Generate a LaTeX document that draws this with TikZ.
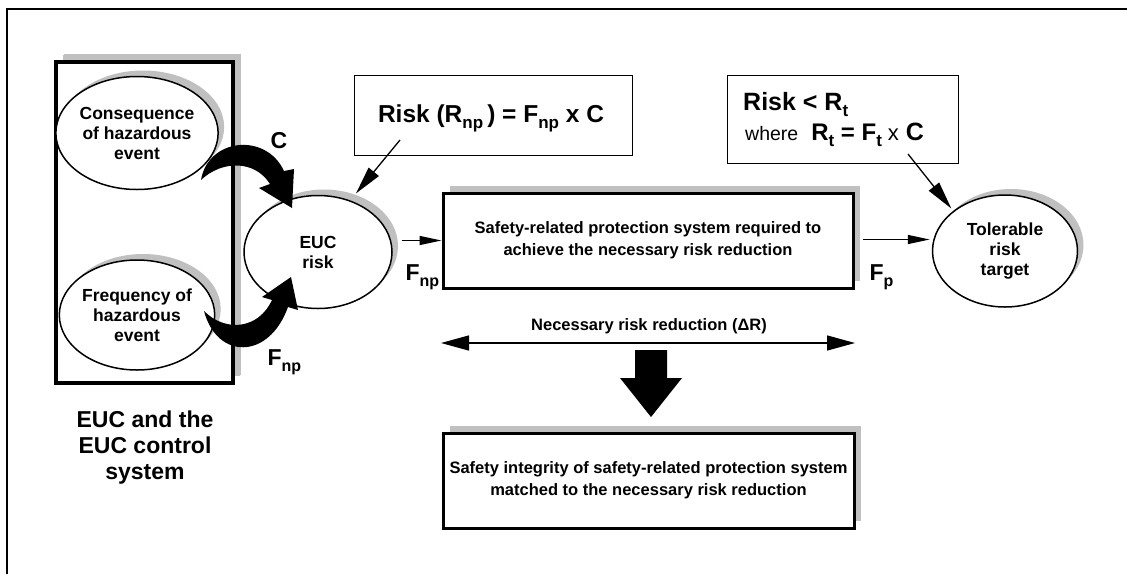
\documentclass[tikz,border=0pt]{standalone}
\usepackage{fontspec}
\setmainfont{Liberation Sans}
\usetikzlibrary{shapes.geometric,arrows.meta,calc,shadows}
\definecolor{shade}{HTML}{C0C0C0}
% lowered subscript: size, drop, text
\newcommand\lowsub[3]{\raisebox{-#2pt}{\fontsize{#1}{#1}\selectfont #3}}

\begin{document}
\begin{tikzpicture}[x=1pt,y=-1pt,
  ovaltext/.style={font=\bfseries\fontsize{17.5}{20}\selectfont, align=center},
  oval/.style={ellipse, draw, line width=1.5pt, fill=white, inner sep=0pt,
    general shadow={shadow xshift=6pt, shadow yshift=6pt, fill=shade}, ovaltext},
  panel/.style={rectangle, draw, line width=3pt, fill=white, inner sep=0pt,
    general shadow={shadow xshift=7pt, shadow yshift=7pt, fill=shade},
    font=\bfseries\fontsize{16.5}{22}\selectfont, align=center},
  formula/.style={rectangle, draw, line width=1pt, fill=white, inner sep=0pt},
  flowarrow/.style={line width=1.3pt, -{Triangle[length=22pt,width=9pt]}},
  pointer/.style={line width=1.3pt, -{Triangle[length=28pt,width=13pt]}},
  biglabel/.style={font=\bfseries\fontsize{23}{26}\selectfont, align=center},
]
\useasboundingbox (0,0) rectangle (1127,574);

% outer frame (open on the right and bottom)
\draw[line width=2.5pt] (7,574) -- (7,9) -- (1127,9);

% EUC and its control system
\node[panel, line width=3.5pt, minimum width=177pt, minimum height=321pt,
  general shadow={shadow xshift=8pt, shadow yshift=8pt, fill=shade}] (euc box) at (144.5,222.5) {};
\node[oval, minimum width=142pt, minimum height=113pt] (cons) at (137,133)
  {Consequence\\of hazardous\\event};
\node[oval, minimum width=147pt, minimum height=110pt] (freq) at (137,315)
  {Frequency of\\hazardous\\event};
\node[biglabel] (euc label) at (145,448) {EUC and the\\EUC control\\system};

% risk ellipses
\node[oval, minimum width=148pt, minimum height=113pt] (risk) at (318,252) {EUC\\risk};
\node[oval, minimum width=145pt, minimum height=112pt] (tol) at (1005,251)
  {Tolerable\\risk\\target};

% curved block arrows into the EUC risk
\fill (201,180) .. controls (208,138) and (266,132) .. (284,171)
  -- (294,169) -- (292,208) -- (259,188) -- (270,184)
  .. controls (255,160) and (222,160) .. (201,180) -- cycle;
\fill (204,311) .. controls (217,360) and (269,360) .. (288,307)
  -- (298,310) -- (291,277) -- (262,297) -- (272,300)
  .. controls (258,330) and (225,332) .. (204,311) -- cycle;
\node[biglabel] (c label) at (279,141) {C};
\node[biglabel, anchor=base west] (fnp low) at (264,365) {F\lowsub{16}{6}{np}};

% protection system boxes
\node[panel, minimum width=410pt, minimum height=95pt] (prot) at (648,240.5)
  {Safety-related protection system required to\\achieve the necessary risk reduction};
\node[panel, minimum width=411pt, minimum height=95pt] (integ) at (648.5,480.5)
  {Safety integrity of safety-related protection system\\matched to the necessary risk reduction};

% flow arrows
\draw[flowarrow] ($(risk.east |- prot.west)+(9,0)$) -- (prot.west);
\draw[flowarrow] ($(prot.east)+(8,-1)$) -- ($(tol.west |- prot.east)+(-2,-1)$);
\node[biglabel, anchor=base west] (fnp mid) at (402,280) {F\lowsub{16}{6}{np}};
\node[biglabel, anchor=base west] (fp) at (866,280) {F\lowsub{16}{6}{p}};

% necessary risk reduction
\coordinate (rr left) at (441,343);
\coordinate (rr right) at (855,343);
\draw[line width=1.3pt, {Triangle[length=28pt,width=15pt]}-{Triangle[length=28pt,width=15pt]}]
  (rr left) -- (rr right);
\node[font=\bfseries\fontsize{16.5}{20}\selectfont] (rr label) at (649,326)
  {Necessary risk reduction (ΔR)};
\fill (635,350) -- (667,350) -- (667,378) -- (682,378) -- (651,417)
  -- (620,378) -- (635,378) -- cycle;

% risk formulas
\node[formula, minimum width=278pt, minimum height=80pt] (f1) at (493,115) {};
\node[inner sep=0pt, anchor=base, font=\bfseries\fontsize{24.5}{28}\selectfont] (f1 text) at (491,122)
  {Risk (R\lowsub{17}{6}{np}\,) = F\lowsub{17}{6}{np} x C};
\node[formula, minimum width=231pt, minimum height=88pt] (f2) at (842.5,119) {};
\node[inner sep=0pt, anchor=base west, font=\bfseries\fontsize{25}{28}\selectfont] (f2 a) at (743,110)
  {Risk < R\lowsub{17}{6}{t}};
\node[inner sep=0pt, anchor=base west, font=\fontsize{19.5}{24}\selectfont] (f2 b) at (745,140)
  {where\hspace{13pt}\textbf{\fontsize{24}{28}\selectfont R\lowsub{17}{6}{t} = F\lowsub{17}{6}{t}}\hspace{6pt}{\fontsize{22}{28}\selectfont x}\hspace{7pt}\textbf{\fontsize{25}{28}\selectfont C}};
\coordinate (p1) at (400,140);
\coordinate (p2) at (908,154);
\draw[pointer, shorten >=9pt] (p1) -- (risk.58);
\draw[pointer, shorten >=3pt] (p2) -- (tol.north west);
\end{tikzpicture}
\end{document}
